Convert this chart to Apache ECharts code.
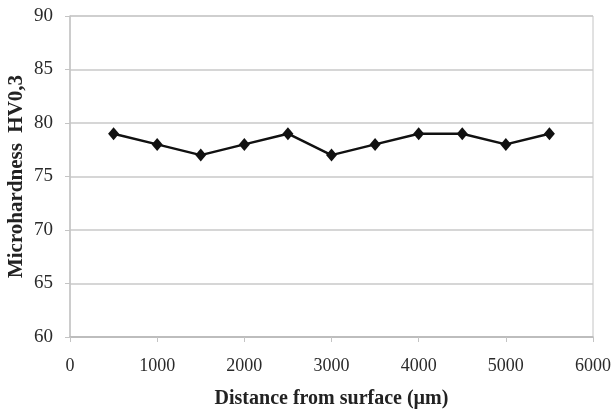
<!DOCTYPE html>
<html>
<head>
<meta charset="utf-8">
<script src="https://cdn.jsdelivr.net/npm/echarts@6/dist/echarts.min.js"></script>
<style>
html, body { margin: 0; padding: 0; background: #fff; }
#main { width: 614px; height: 412px; }
</style>
</head>
<body>
<div id="main"></div>
<script>
// values
var distance = [500, 1000, 1500, 2000, 2500, 3000, 3500, 4000, 4500, 5000, 5500];
var hardness = [79, 78, 77, 78, 79, 77, 78, 79, 79, 78, 79];

var chart = echarts.init(document.getElementById('main'));
var serif = '"Liberation Serif", "DejaVu Serif", serif';

var points = [];
for (var i = 0; i < distance.length; i++) {
    points.push([distance[i], hardness[i]]);
}

var option = {
    backgroundColor: '#fff',
    animation: false,
    grid: {
        left: 70,
        right: 21,
        top: 16,
        bottom: 75,
        containLabel: false,
        outerBoundsMode: 'none',
        show: true,
        borderColor: '#c4c4c4',
        borderWidth: 1
    },
    xAxis: {
        type: 'value',
        min: 0,
        max: 6000,
        interval: 1000,
        name: 'Distance from surface (\u00b5m)',
        nameLocation: 'middle',
        nameGap: 52,
        nameMoveOverlap: false,
        nameTextStyle: { fontFamily: serif, fontSize: 20, fontWeight: 'bold', color: '#222' },
        axisLine: { show: true, lineStyle: { color: '#b8b8b8', width: 1.5 } },
        axisTick: { show: true, length: 5, lineStyle: { color: '#c4c4c4' } },
        axisLabel: {
            fontFamily: serif, fontSize: 18, color: '#2a2a2a', margin: 20,
            formatter: function (v) { return String(v); }
        },
        splitLine: { show: false }
    },
    yAxis: {
        type: 'value',
        min: 60,
        max: 90,
        interval: 5,
        name: 'Microhardness  HV0,3',
        nameLocation: 'middle',
        nameGap: 43,
        nameMoveOverlap: false,
        nameTextStyle: { fontFamily: serif, fontSize: 21, fontWeight: 'bold', color: '#222' },
        axisLine: { show: true, lineStyle: { color: '#c4c4c4', width: 1.5 } },
        axisTick: { show: true, length: 5, lineStyle: { color: '#c4c4c4' } },
        axisLabel: { fontFamily: serif, fontSize: 19, color: '#2a2a2a', margin: 17 },
        splitLine: { show: true, lineStyle: { color: '#c8c8c8', width: 1.5 } }
    },
    series: [
        {
            type: 'line',
            data: points,
            symbol: 'diamond',
            symbolSize: [11, 13],
            lineStyle: { color: '#111', width: 2.5 },
            itemStyle: { color: '#111' }
        }
    ]
};

chart.setOption(option);
</script>
</body>
</html>
